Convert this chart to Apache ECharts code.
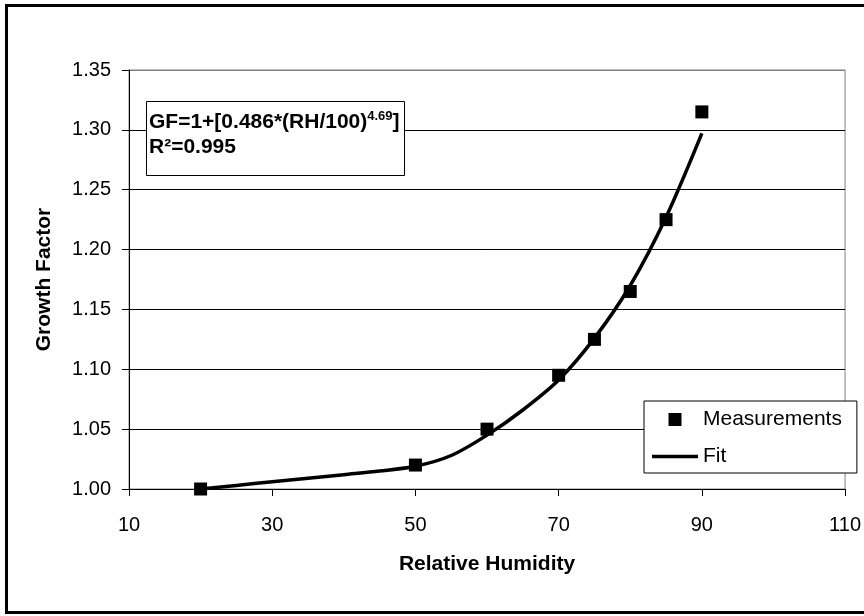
<!DOCTYPE html>
<html>
<head>
<meta charset="utf-8">
<script src="https://cdn.jsdelivr.net/npm/echarts@6/dist/echarts.min.js"></script>
<style>
html,body{margin:0;padding:0;background:#fff;}
#chart{width:864px;height:616px;}
</style>
</head>
<body>
<div id="chart"></div>
<script>
// Measurements
const measRH = [20, 50, 60, 70, 75, 80, 85, 90];
const measGF = [1.000, 1.020, 1.050, 1.095, 1.125, 1.165, 1.225, 1.315];
// Fit curve
const fitRH = [20, 25, 30, 35, 40, 45, 50, 55, 60, 65, 70, 75, 80, 85, 90];
const fitGF = [1.000, 1.003, 1.006, 1.009, 1.012, 1.015, 1.019, 1.028, 1.045, 1.066, 1.091, 1.126, 1.170, 1.227, 1.297];

const xTitle = 'Relative Humidity';
const yTitle = 'Growth Factor';
const seriesNames = ['Measurements', 'Fit'];

const FONT = 'Liberation Sans, Arial, sans-serif';

const chart = echarts.init(document.getElementById('chart'), null, {renderer: 'canvas'});

const yGridColors = ['#000', '#000', '#000', '#000', '#000', '#000', '#000', '#808080'];

chart.setOption({
  animation: false,
  backgroundColor: '#fff',
  textStyle: {fontFamily: FONT, color: '#000'},
  grid: {
    left: 129, right: 13, top: 70, bottom: 127,
    show: true, borderColor: '#808080', borderWidth: 1, backgroundColor: 'transparent'
  },
  title: {
    left: 146, top: 101,
    padding: [9, 5, 18, 3],
    borderColor: '#000', borderWidth: 1, backgroundColor: '#fff',
    text: '{a|GF=1+[0.486*(RH/100)}{s|4.69}{a|]}\n{a|R²=0.995}',
    textStyle: {
      rich: {
        a: {fontFamily: FONT, fontSize: 21, fontWeight: 'bold', color: '#000', lineHeight: 25},
        s: {fontFamily: FONT, fontSize: 13, fontWeight: 'bold', color: '#000', lineHeight: 13, verticalAlign: 'top'}
      }
    }
  },
  legend: {
    orient: 'vertical',
    left: 644, top: 401,
    padding: [8, 15, 6, 8],
    itemWidth: 46, itemHeight: 13, itemGap: 16,
    borderColor: '#000', borderWidth: 1, backgroundColor: '#fff',
    textStyle: {fontFamily: FONT, fontSize: 21, color: '#000'},
    data: [
      {name: seriesNames[0], icon: 'path://M0,0H1V1H0Z'},
      {name: seriesNames[1], icon: 'path://M0,0H46V3.5H0Z'}
    ],
    selectedMode: false
  },
  xAxis: {
    type: 'value',
    min: 10, max: 110, interval: 20,
    name: xTitle, nameLocation: 'middle', nameGap: 65,
    nameTextStyle: {fontFamily: FONT, fontSize: 21, fontWeight: 'bold', color: '#000'},
    axisLine: {show: true, onZero: false, lineStyle: {color: '#000', width: 1}},
    axisTick: {show: true, inside: false, length: 7, lineStyle: {color: '#000'}},
    axisLabel: {fontFamily: FONT, fontSize: 20, color: '#000', margin: 26},
    splitLine: {show: false}
  },
  yAxis: {
    type: 'value',
    min: 1.00, max: 1.35, interval: 0.05,
    name: yTitle, nameLocation: 'middle', nameGap: 74,
    nameTextStyle: {fontFamily: FONT, fontSize: 21, fontWeight: 'bold', color: '#000'},
    axisLine: {show: true, onZero: false, lineStyle: {color: '#000', width: 1}},
    axisTick: {show: true, inside: false, length: 7, lineStyle: {color: '#000'}},
    axisLabel: {fontFamily: FONT, fontSize: 20, color: '#000', margin: 18,
      formatter: v => v.toFixed(2)},
    splitLine: {show: true, lineStyle: {color: yGridColors, width: 1}}
  },
  graphic: [{
    type: 'rect', silent: true, z: 100,
    shape: {x: 6.5, y: 5.5, width: 880, height: 607},
    style: {fill: 'none', stroke: '#000', lineWidth: 3}
  }],
  series: [
    {
      name: seriesNames[1],
      type: 'line',
      data: fitRH.map((x, i) => [x, fitGF[i]]),
      symbol: 'none', showSymbol: false,
      smooth: 0.3,
      lineStyle: {color: '#000', width: 3.5},
      itemStyle: {color: '#000'},
      z: 2
    },
    {
      name: seriesNames[0],
      type: 'scatter',
      data: measRH.map((x, i) => [x, measGF[i]]),
      symbol: 'rect', symbolSize: 13,
      itemStyle: {color: '#000', opacity: 1},
      z: 3
    }
  ]
});
</script>
</body>
</html>
